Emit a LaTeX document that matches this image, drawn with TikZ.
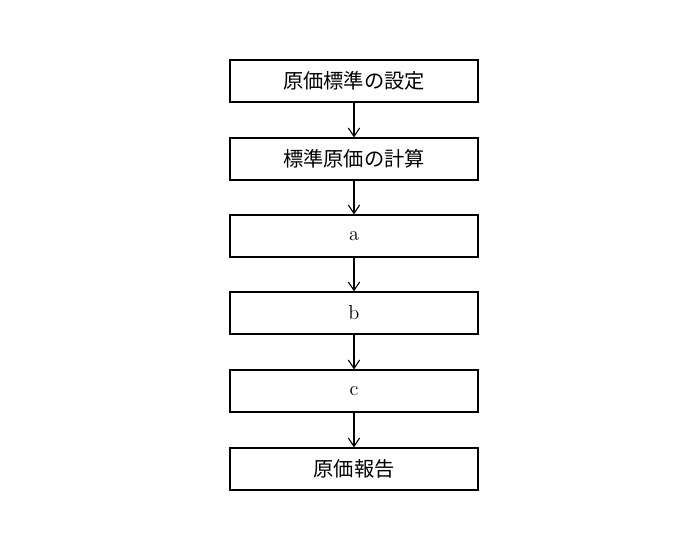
\documentclass[tikz,border=0pt]{standalone}
\usepackage{fontspec}
\newfontfamily\cjk{Noto Sans CJK JP}
\usetikzlibrary{arrows.meta, positioning}

\begin{document}
\begin{tikzpicture}[x=0.025cm, y=-0.025cm, >={Straight Barb[length=6pt,width=8pt]},
	box/.style={draw, thick, minimum width=6.2cm, minimum height=1.05cm, inner sep=0pt, font=\Large},
	flow/.style={->, thick}]
	\useasboundingbox (0,0) rectangle (700,540);
	
	% steps
	\node[box, font=\Large\cjk] (setting) at (354,81) {原価標準の設定};
	\node[box, font=\Large\cjk] (calc) at (354,159) {標準原価の計算};
	\node[box] (a) at (354,236) {a};
	\node[box] (b) at (354,313) {b};
	\node[box] (c) at (354,391) {c};
	\node[box, font=\Large\cjk] (report) at (354,469) {原価報告};
	
	% arrows
	\draw[flow] (setting) -- (calc);
	\draw[flow] (calc) -- (a);
	\draw[flow] (a) -- (b);
	\draw[flow] (b) -- (c);
	\draw[flow] (c) -- (report);
\end{tikzpicture}
\end{document}
